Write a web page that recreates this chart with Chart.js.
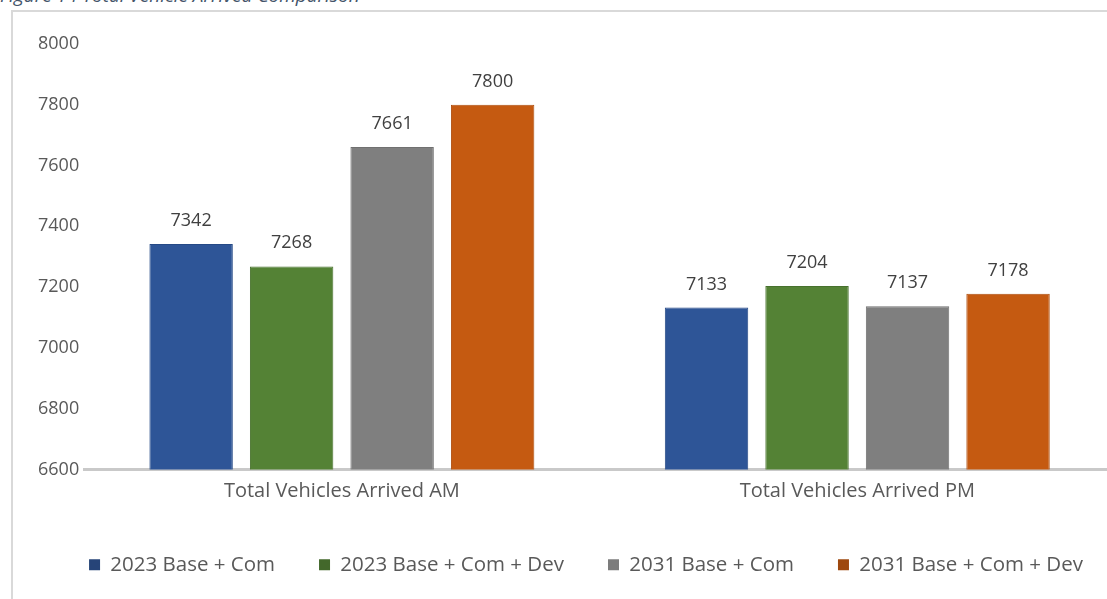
<!DOCTYPE html>
<html>
<head>
<meta charset="utf-8">
<title>Total Vehicle Arrived Comparison</title>
<script src="https://cdn.jsdelivr.net/npm/chart.js@4.4.1/dist/chart.umd.min.js"></script>
<style>
  html, body { margin: 0; padding: 0; background: #fff; overflow: hidden; }
  body { width: 1107px; height: 599px; position: relative; }
  #caption {
    position: absolute; left: 0; top: -14px;
    font: italic 19px "Open Sans", sans-serif; line-height: 18px;
    color: #44546a; white-space: nowrap;
  }
  #frame {
    position: absolute; left: 11px; top: 10px; width: 1200px; height: 700px;
    border-left: 2px solid #d9d9d9; border-top: 2px solid #d9d9d9;
  }
  #wrap { position: absolute; left: 0; top: 0; width: 1130px; height: 599px; }
</style>
</head>
<body>
<div id="caption">Figure 14 Total Vehicle Arrived Comparison</div>
<div id="frame"></div>
<div id="wrap"><canvas id="arrivals"></canvas></div>
<script>
const categories = ["Total Vehicles Arrived AM", "Total Vehicles Arrived PM"];
const seriesNames = ["2023 Base + Com", "2023 Base + Com + Dev", "2031 Base + Com", "2031 Base + Com + Dev"];
const base2023 = [7342, 7133];
const dev2023 = [7268, 7204];
const base2031 = [7661, 7137];
const dev2031 = [7800, 7178];
const yTicks = [6600, 6800, 7000, 7200, 7400, 7600, 7800, 8000];

const barFill = ["#2e5597", "#548235", "#7f7f7f", "#c55a11"];
const barEdge = ["#264a86", "#47712d", "#707070", "#ad4d0e"];
const keyFill = ["#264478", "#43682b", "#7c7c7c", "#9e480e"];

const seriesValues = [base2023, dev2023, base2031, dev2031];

// value printed above each bar
const barValues = {
  id: "barValues",
  afterDatasetsDraw(chart) {
    const ctx = chart.ctx;
    ctx.save();
    ctx.font = "18px 'Open Sans', sans-serif";
    ctx.fillStyle = "#404040";
    ctx.textAlign = "center";
    ctx.textBaseline = "alphabetic";
    chart.data.datasets.forEach((ds, i) => {
      chart.getDatasetMeta(i).data.forEach((bar, j) => {
        ctx.fillText(String(ds.data[j]), bar.x, bar.y - 18);
      });
    });
    ctx.restore();
  }
};

// nudge the legend row a little to the right
const legendShift = {
  id: "legendShift",
  afterLayout(chart) {
    chart.legend.left += 12;
    chart.legend.right += 12;
  }
};

new Chart(document.getElementById("arrivals"), {
  type: "bar",
  data: {
    labels: categories,
    datasets: seriesNames.map((name, i) => ({
      label: name,
      data: seriesValues[i],
      backgroundColor: barFill[i],
      borderColor: barEdge[i],
      borderWidth: 1,
      categoryPercentage: 0.78,
      barPercentage: 0.83
    }))
  },
  options: {
    responsive: true,
    maintainAspectRatio: false,
    animation: false,
    layout: { padding: { top: 44, right: 15, bottom: 14, left: 33 } },
    plugins: {
      tooltip: { enabled: false },
      legend: {
        position: "bottom",
        labels: {
          font: { family: "Open Sans", size: 20.5 },
          color: "#595959",
          boxWidth: 11,
          boxHeight: 11,
          padding: 44,
          generateLabels(chart) {
            return chart.data.datasets.map((ds, i) => ({
              text: ds.label,
              fillStyle: keyFill[i],
              strokeStyle: keyFill[i],
              lineWidth: 0,
              fontColor: "#595959",
              datasetIndex: i
            }));
          }
        }
      }
    },
    scales: {
      x: {
        afterFit(scale) { scale.height -= 3; },
        grid: { display: false, drawTicks: false },
        border: { color: "#c9c9c9", width: 3 },
        ticks: { font: { family: "Open Sans", size: 20 }, color: "#595959", padding: 10 }
      },
      y: {
        min: 6600,
        max: 8000,
        afterBuildTicks(scale) { scale.ticks = yTicks.map(v => ({ value: v })); },
        grid: { display: false, drawTicks: false },
        border: { display: false },
        ticks: {
          font: { family: "Open Sans", size: 18 },
          color: "#595959",
          padding: 5,
          callback: v => String(v)
        }
      }
    }
  },
  plugins: [barValues, legendShift]
});
</script>
</body>
</html>
